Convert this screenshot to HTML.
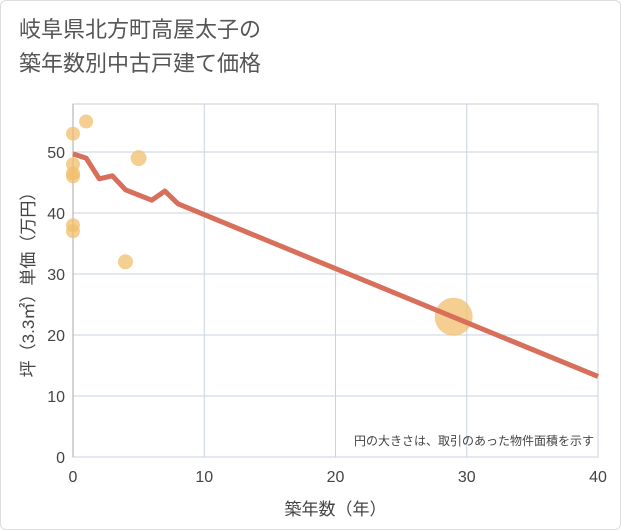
<!DOCTYPE html>
<html><head><meta charset="utf-8"><style>
body{margin:0;background:#fff;}
#wrap{position:relative;width:619px;height:528px;border:1px solid #ddd;border-radius:6px;overflow:hidden;background:#fff;font-family:"Liberation Sans","Noto Sans CJK JP",sans-serif;}
#title{position:absolute;left:18px;top:12px;font-size:22px;line-height:34px;color:#555;}
svg{position:absolute;left:0;top:0;}
</style></head><body>
<div id="wrap">
<div id="title">岐阜県北方町高屋太子の<br>築年数別中古戸建て価格</div>
<svg id="chart" width="621" height="530"></svg>
</div>
<script>
const xTicks=[0,10,20,30,40];
const yTicks=[0,10,20,30,40,50];
const lineX=[0,1,2,3,4,6,7,8,40];
const lineY=[49.7,49,45.6,46.1,43.8,42.1,43.6,41.5,13.2];
const dotX=[0,0,0,0,0,0,1,4,5,29];
const dotY=[53,48,46.5,46,38,37,55,32,49,23];
const dotR=[7,7,7,7,7,7,7,7.5,8,19];
const NS="http://www.w3.org/2000/svg";
const svg=document.getElementById('chart');
const L=72,R=597,T=103,B=456;
const sx=v=>L+(v-0)/40*(R-L);
const sy=v=>B-v*6.1;
function el(t,a,p){const e=document.createElementNS(NS,t);for(const k in a)e.setAttribute(k,a[k]);(p||svg).appendChild(e);return e;}
const bg=el('rect',{x:L,y:T,width:R-L,height:B-T,fill:'#fff',stroke:'#ccc'});


xTicks.forEach(v=>{
 const g=el('line',{x1:sx(v),x2:sx(v),y1:T,y2:B,stroke:'#c8d3e0'});
 
 
 const t=el('text',{x:sx(v),y:B+25,'text-anchor':'middle','font-size':16,fill:'#444'});
 t.textContent=v;
 
 
});
yTicks.forEach(v=>{
 const g=el('line',{x1:L,x2:R,y1:sy(v),y2:sy(v),stroke:'#c8d3e0'});
 
 
 const t=el('text',{x:L-8,y:sy(v)+6,'text-anchor':'end','font-size':16,fill:'#444'});
 t.textContent=v;
 
 
});
const ax=el('line',{x1:L,x2:L,y1:T,y2:B,stroke:'#aaa'});


dotX.forEach((x,i)=>{
 const c=el('circle',{cx:sx(x),cy:sy(dotY[i]),r:dotR[i],fill:'#f2bf6c','fill-opacity':0.75});
 
 
});
const p=el('polyline',{points:lineX.map((x,i)=>sx(x)+','+sy(lineY[i])).join(' '),fill:'none',stroke:'#d76f5a','stroke-width':5,'stroke-linejoin':'round'});


const n=el('text',{x:R-4,y:B-12,'text-anchor':'end','font-size':12,fill:'#444'});
n.textContent='円の大きさは、取引のあった物件面積を示す';


const xt=el('text',{x:(L+R)/2,y:514,'text-anchor':'middle','font-size':17,fill:'#444'});
xt.textContent='築年数（年）';


const yt=el('text',{x:0,y:0,'text-anchor':'middle','font-size':17,fill:'#444',transform:'translate(33,'+((T+B)/2)+') rotate(-90)'});
yt.textContent='坪（3.3㎡）単価（万円）';


</script>
</body></html>
